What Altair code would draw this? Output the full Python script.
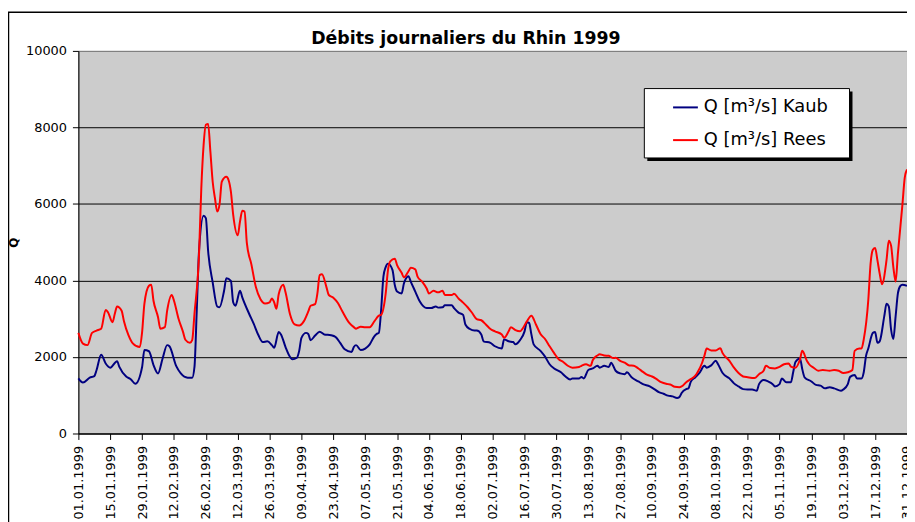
import altair as alt
import pandas as pd

TITLE = "Débits journaliers du Rhin 1999"
Y_TITLE = "Q"
SERIES = ["Q [m³/s] Kaub", "Q [m³/s] Rees"]
COLORS = ["#000080", "#FF0000"]
Y_TICKS = [0, 2000, 4000, 6000, 8000, 10000]
TICK_LABELS = [
    "01.01.1999", "15.01.1999", "29.01.1999", "12.02.1999", "26.02.1999",
    "12.03.1999", "26.03.1999", "09.04.1999", "23.04.1999", "07.05.1999",
    "21.05.1999", "04.06.1999", "18.06.1999", "02.07.1999", "16.07.1999",
    "30.07.1999", "13.08.1999", "27.08.1999", "10.09.1999", "24.09.1999",
    "08.10.1999", "22.10.1999", "05.11.1999", "19.11.1999", "03.12.1999",
    "17.12.1999", "31.12.1999",
]

# day of year (0 = 01.01.1999) and discharge in m3/s
KAUB_DAY = [
    0, 2, 5, 7, 8, 10, 12, 14, 17, 18, 21, 23, 25, 28, 29, 31, 33, 35, 37, 39,
    40, 43, 45, 48, 50, 51, 52, 53, 55, 56, 57, 59, 61, 62, 64, 65, 67, 68, 69, 71,
    72, 75, 77, 79, 81, 83, 85, 86, 88, 89, 91, 93,
    94, 96, 97, 98, 100, 101, 102, 104, 106, 108, 111, 113, 115, 117, 120, 121, 122, 124,
    126, 128, 130, 131, 132, 133, 134, 135, 136, 138, 139, 140, 142, 143, 145, 146, 148, 150,
    153, 155, 157, 158, 160, 161, 164, 165, 167, 169, 170, 172, 174, 175, 177, 178, 181, 183,
    186, 187, 189, 191, 192, 194, 196, 197, 198, 199, 200, 203, 205, 207, 209, 212, 214, 216,
    217, 220, 221, 222, 224, 226, 228, 229, 231, 233, 234, 236, 238, 240, 241, 243, 246, 248,
    251, 253, 255, 257, 259, 261, 263, 264, 265, 267, 268, 269, 271, 273,
    275, 276, 278, 280, 281, 283, 286, 288, 290, 292, 294, 296, 298, 299, 301, 303, 305, 306,
    308, 309, 311, 313, 314, 315, 317, 318, 319, 322, 324, 326, 328, 330, 332, 335, 336, 338,
    339, 341, 342, 344, 345, 346, 347, 349, 350, 351, 352, 354, 355, 356, 357, 358, 359, 360,
    361, 362, 364,
]
KAUB_Q = [
    1440, 1330, 1460, 1500, 1660, 2060, 1830, 1720, 1890, 1740, 1490, 1420, 1300, 1740, 2180, 2150, 1790, 1570, 1960, 2310,
    2280, 1760, 1570, 1460, 1460, 1740, 3210, 4770, 5690, 5630, 4770, 3950, 3320, 3300, 3730, 4060, 3990, 3430, 3340, 3730,
    3560, 3130, 2870, 2580, 2390, 2410, 2310, 2240, 2650, 2590, 2260, 2000,
    1940, 1980, 2160, 2500, 2630, 2600, 2440, 2560, 2660, 2590, 2570, 2520, 2370, 2200, 2130, 2260, 2310, 2180,
    2220, 2330, 2540, 2600, 2630, 3230, 4100, 4350, 4440, 4270, 3880, 3710, 3660, 3920, 4110, 3970, 3710, 3450,
    3280, 3280, 3320, 3290, 3300, 3350, 3350, 3280, 3160, 3100, 2850, 2730, 2690, 2690, 2590, 2410, 2370, 2280,
    2220, 2460, 2410, 2390, 2330, 2440, 2670, 2910, 2890, 2590, 2330, 2160, 2010, 1810, 1700, 1600, 1490, 1410,
    1440, 1440, 1480, 1440, 1660, 1700, 1770, 1720, 1770, 1740, 1850, 1640, 1570, 1550, 1600, 1470, 1360, 1290,
    1230, 1160, 1080, 1040, 990, 970, 930, 950, 1060, 1160, 1180, 1350, 1470, 1600,
    1770, 1720, 1780, 1900, 1810, 1580, 1440, 1310, 1230, 1160, 1150, 1150, 1120, 1290, 1400, 1360, 1290, 1230,
    1290, 1440, 1340, 1340, 1600, 1870, 1960, 1680, 1470, 1360, 1270, 1250, 1180, 1210, 1180, 1120, 1150, 1290,
    1480, 1530, 1440, 1440, 1600, 2030, 2220, 2630, 2650, 2370, 2410, 3060, 3390, 3320, 2720, 2470, 3060, 3660,
    3850, 3890, 3860,
]

REES_DAY = [
    0, 2, 4, 6, 8, 10, 12, 13, 15, 16, 17, 19, 20, 22, 24, 27, 28, 29, 31, 32,
    33, 35, 36, 38, 39, 41, 42, 44, 46, 47, 49, 50, 51, 53, 54, 55, 56, 57, 58, 59,
    60, 61, 62, 63, 65, 66, 67, 68, 70, 71, 72, 73, 74, 76, 78, 80, 82, 84, 85, 86,
    87, 88, 90, 91, 93,
    95, 97, 99, 101, 102, 104, 105, 106, 107, 109, 110, 112, 114, 116, 119, 121, 122, 124, 126, 128,
    130, 132, 133, 135, 136, 137, 139, 140, 142, 143, 145, 146, 148, 149, 151, 153, 154, 156, 158, 160,
    161, 164, 165, 167, 169, 171, 173, 175, 177, 179, 181, 183,
    186, 187, 189, 190, 192, 194, 195, 197, 199, 201, 203, 205, 207, 209, 211, 213, 215, 217, 220, 221,
    223, 225, 226, 228, 229, 231, 233, 235, 236, 238, 240, 242, 244, 246, 248, 250, 252, 254, 256, 259,
    260, 262, 264, 265, 267, 269, 271,
    272, 274, 275, 276, 278, 280, 282, 283, 286, 288, 290, 292, 294, 297, 299, 301, 302, 304, 306, 308,
    310, 312, 313, 315, 317, 318, 320, 321, 323, 325, 327, 330, 332, 334, 336, 338, 340, 341, 343, 344,
    345, 347, 348, 349, 350, 351, 352, 353, 355, 356, 357, 358, 359, 360, 362, 363, 364,
]
REES_Q = [
    2630, 2350, 2310, 2630, 2690, 2740, 3230, 3170, 2910, 3130, 3320, 3210, 2940, 2570, 2350, 2260, 2650, 3390, 3860, 3890,
    3470, 3040, 2740, 2780, 3210, 3620, 3470, 3000, 2650, 2450, 2370, 2440, 3130, 4680, 6410, 7530, 8070, 8090, 7360, 6580,
    6150, 5800, 5980, 6580, 6710, 6620, 6320, 5720, 5180, 5540, 5820, 5800, 4980, 4420, 3820, 3510, 3400, 3430, 3530, 3430,
    3260, 3640, 3890, 3690, 3110,
    2850, 2820, 2930, 3190, 3340, 3380, 3660, 4140, 4160, 3820, 3620, 3550, 3410, 3190, 2890, 2780, 2740, 2790, 2780, 2780,
    2930, 3080, 3100, 3660, 4270, 4500, 4570, 4400, 4200, 4080, 4240, 4330, 4290, 4100, 3970, 3790, 3660, 3730, 3690, 3730,
    3620, 3620, 3650, 3530, 3420, 3300, 3150, 2990, 2960, 2850, 2730, 2670,
    2590, 2500, 2670, 2780, 2700, 2670, 2730, 2930, 3080, 2850, 2600, 2470, 2280, 2100, 1940, 1870, 1770, 1720, 1740, 1770,
    1810, 1770, 1920, 2040, 2070, 2040, 2030, 1970, 1980, 1900, 1850, 1780, 1770, 1700, 1610, 1530, 1490, 1420, 1340, 1290,
    1280, 1220, 1210, 1230, 1340, 1420, 1510,
    1600, 1850, 2030, 2220, 2170, 2170, 2230, 2100, 1900, 1720, 1580, 1490, 1470, 1450, 1550, 1640, 1770, 1710, 1700, 1740,
    1810, 1830, 1750, 1720, 1940, 2160, 1900, 1810, 1720, 1640, 1660, 1640, 1660, 1640, 1580, 1600, 1660, 2160, 2220, 2220,
    2460, 3490, 4440, 4800, 4850, 4530, 4180, 3900, 4530, 5040, 4910, 4350, 3970, 4700, 5990, 6680, 6900,
]

FONT = "DejaVu Sans"
start = pd.Timestamp("1999-01-01")

df = pd.concat([
    pd.DataFrame({"date": start + pd.to_timedelta(KAUB_DAY, unit="D"), "Q": KAUB_Q, "station": SERIES[0]}),
    pd.DataFrame({"date": start + pd.to_timedelta(REES_DAY, unit="D"), "Q": REES_Q, "station": SERIES[1]}),
], ignore_index=True)


def to_dt(s):
    d, m, y = s.split(".")
    return alt.DateTime(year=int(y), month=int(m), date=int(d))


tick_values = [to_dt(s) for s in TICK_LABELS]

x_enc = alt.X(
    "date:T",
    scale=alt.Scale(domain=[to_dt(TICK_LABELS[0]), to_dt(TICK_LABELS[-1])]),
    axis=alt.Axis(
        values=tick_values, format="%d.%m.%Y", labelAngle=270, title=None, grid=False,
        tickSize=6, labelPadding=6, labelFontSize=13, labelFont=FONT, labelColor="black",
        domainColor="black", tickColor="black", labelOverlap=False, labelFlush=False,
    ),
)
y_enc = alt.Y(
    "Q:Q",
    scale=alt.Scale(domain=[0, 10000], nice=False),
    axis=alt.Axis(
        values=Y_TICKS, format="d", title=Y_TITLE, titleX=-65, titleY=193, titleAngle=270,
        titleAlign="center", titleBaseline="middle", titleFontSize=12, titleFontWeight="bold",
        titleFont=FONT, titleColor="black",
        grid=True, gridColor={"condition": {"test": "datum.value >= 10000", "value": "#808080"}, "value": "#000000"},
        gridWidth=1, tickSize=6, labelPadding=6, labelFontSize=13, labelFont=FONT,
        labelColor="black", domainColor="black", tickColor="black",
    ),
)

lines = alt.Chart(df).mark_line(strokeWidth=2, interpolate="monotone").encode(
    x=x_enc,
    y=y_enc,
    color=alt.Color(
        "station:N",
        scale=alt.Scale(domain=SERIES, range=COLORS),
        legend=alt.Legend(
            title=None, orient="none", legendX=599, legendY=43.5, symbolType="stroke",
            symbolSize=625, symbolStrokeWidth=2, labelFontSize=18, labelFont=FONT,
            labelOffset=5, rowPadding=10, padding=0, labelColor="black", labelLimit=300,
        ),
    ),
)

one = pd.DataFrame({"k": [0]})
shadow = alt.Chart(one).mark_rect(color="black").encode(
    x=alt.value(574), x2=alt.value(781), y=alt.value(41), y2=alt.value(111)
)
box = alt.Chart(one).mark_rect(fill="white", stroke="black", strokeWidth=1).encode(
    x=alt.value(571), x2=alt.value(778), y=alt.value(38), y2=alt.value(108)
)
border_top = alt.Chart(one).mark_rule(color="black", strokeWidth=1.5).encode(
    x=alt.value(-71), x2=alt.value(900), y=alt.value(-39)
)
border_left = alt.Chart(one).mark_rule(color="black", strokeWidth=1.5).encode(
    x=alt.value(-70.5), y=alt.value(-39), y2=alt.value(600)
)
title = alt.Chart(one).mark_text(
    text=TITLE, font=FONT, fontSize=17.5, fontWeight="bold", color="black",
    align="center", baseline="alphabetic",
).encode(x=alt.value(391), y=alt.value(-7))

chart = alt.layer(lines, border_top, border_left, shadow, box, title).properties(
    width=836,
    height=386,
    autosize=alt.AutoSizeParams(type="none"),
    padding={"left": 71, "top": 41, "right": 0, "bottom": 87},
    background="white",
).configure_view(fill="#CCCCCC", stroke="#808080", strokeWidth=1)

chart.save("out.html", embed_options={"renderer": "svg", "actions": False})
